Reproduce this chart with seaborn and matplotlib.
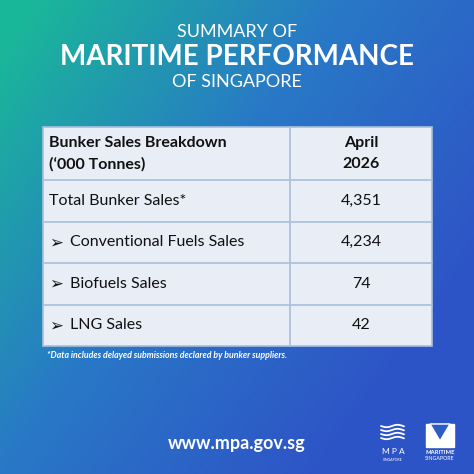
import numpy as np
import seaborn as sns
import matplotlib.pyplot as plt
from matplotlib.patches import Rectangle, Polygon

sns.set_theme(style="white")
plt.rcParams["font.family"] = ["Lato", "DejaVu Sans"]

# DATA
header_label = ["Bunker Sales Breakdown", "(\u2018000 Tonnes)"]
header_period = ["April", "2026"]
row_labels = ["Total Bunker Sales*", "Conventional Fuels Sales", "Biofuels Sales", "LNG Sales"]
row_is_sub = [False, True, True, True]
row_values = ["4,351", "4,234", "74", "42"]
footnote = "*Data includes delayed submissions declared by bunker suppliers."

W = H = 474
fig = plt.figure(figsize=(4.74, 4.74), dpi=100)
ax = fig.add_axes([0, 0, 1, 1])
ax.set_xlim(0, W)
ax.set_ylim(H, 0)
ax.axis("off")

# background gradient teal (top-left) -> blue (bottom-right)
yy, xx = np.mgrid[0:1:200j, 0:1:200j]
t = np.clip(0.75 * xx + 0.55 * yy - 0.05, 0, 1)
c0 = np.array([0.10, 0.72, 0.60])
c1 = np.array([0.16, 0.47, 0.78])
c2 = np.array([0.18, 0.33, 0.78])
t2 = t[..., None]
img = np.where(t2 < 0.5, c0 + (c1 - c0) * (t2 / 0.5), c1 + (c2 - c1) * ((t2 - 0.5) / 0.5))
ax.imshow(img, extent=[0, W, H, 0], aspect="auto", zorder=0)

# titles
ax.text(237, 32, "SUMMARY OF", color="white", fontsize=13, ha="center", va="center")
ax.text(237, 57, "MARITIME PERFORMANCE", color="white", fontsize=20, fontweight="bold", ha="center", va="center")
ax.text(237, 82, "OF SINGAPORE", color="white", fontsize=13, ha="center", va="center")

# table
x0, x1, xd = 43, 432, 290
top, head_h, row_h = 127, 53, 41.5
cell = "#e9edf5"
edge = "#a9bfdc"
n = len(row_labels)
bottom = top + head_h + n * row_h
ax.add_patch(Rectangle((x0, top), x1 - x0, bottom - top, facecolor=cell, edgecolor=edge, lw=1.2, zorder=2))
ax.plot([xd, xd], [top, bottom], color=edge, lw=1.2, zorder=3)
for i in range(n):
    yl = top + head_h + i * row_h
    ax.plot([x0, x1], [yl, yl], color=edge, lw=1.2, zorder=3)

tc = "#111111"
fs = 11.5
ax.text(49, top + 16, header_label[0], fontsize=fs, fontweight="bold", color=tc, va="center", zorder=4)
ax.text(49, top + 37, header_label[1], fontsize=fs, fontweight="bold", color=tc, va="center", zorder=4)
xc = (xd + x1) / 2
ax.text(xc, top + 16, header_period[0], fontsize=fs, fontweight="bold", color=tc, ha="center", va="center", zorder=4)
ax.text(xc, top + 37, header_period[1], fontsize=fs, fontweight="bold", color=tc, ha="center", va="center", zorder=4)

for i, (lab, sub, val) in enumerate(zip(row_labels, row_is_sub, row_values)):
    yc = top + head_h + (i + 0.5) * row_h
    if sub:
        ax.text(49, yc, "\u27a2", fontsize=12, color=tc, va="center", family="DejaVu Sans", zorder=4)
        ax.text(70, yc, lab, fontsize=fs, color=tc, va="center", zorder=4)
    else:
        ax.text(49, yc, lab, fontsize=fs, color=tc, va="center", zorder=4)
    ax.text(xc, yc, val, fontsize=fs, color=tc, ha="center", va="center", zorder=4)

ax.text(47, bottom + 10, footnote, fontsize=6.3, color="white", style="italic", fontweight="bold", va="center")

# footer
ax.text(237, 444, "www.mpa.gov.sg", color="white", fontsize=13, fontweight="bold", ha="center", va="center")

# MPA logo (simplified)
for k in range(4):
    yk = 426 + k * 4
    xs = np.linspace(381, 404, 30)
    ax.plot(xs, yk + 1.2 * np.sin((xs - 381) / 3.5), color="white", lw=1.3)
ax.text(393, 452, "M P A", color="white", fontsize=6, ha="center", va="center")
ax.text(393, 460, "SINGAPORE", color="white", fontsize=2.5, ha="center", va="center")
# Maritime Singapore logo (simplified)
ax.add_patch(Rectangle((426, 424), 28, 23, facecolor="white", zorder=2))
ax.add_patch(Polygon([[430, 424], [450, 424], [440, 441]], facecolor="#2f5cc4", zorder=3))
ax.text(440, 452, "MARITIME", color="white", fontsize=4.2, fontweight="bold", ha="center", va="center")
ax.text(440, 458, "SINGAPORE", color="white", fontsize=3.8, ha="center", va="center")

fig.savefig("out.png", dpi=100)
